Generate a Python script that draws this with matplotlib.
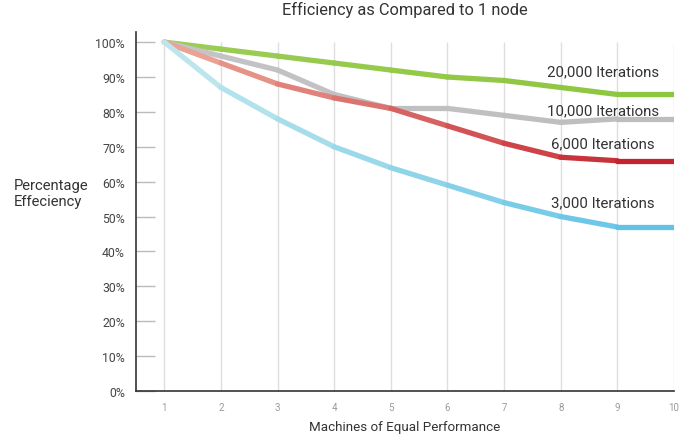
import numpy as np
import matplotlib.pyplot as plt
from matplotlib.collections import LineCollection
from matplotlib.colors import LinearSegmentedColormap

plt.rcParams['font.family'] = ['Roboto', 'DejaVu Sans']

machines = [1, 2, 3, 4, 5, 6, 7, 8, 9, 10]
eff_20000 = [100, 98, 96, 94, 92, 90, 89, 87, 85, 85]
eff_10000 = [100, 96, 92, 85, 81, 81, 79, 77, 78, 78]
eff_6000 = [100, 94, 88, 84, 81, 76, 71, 67, 66, 66]
eff_3000 = [100, 87, 78, 70, 64, 59, 54, 50, 47, 47]

series = [
    ('20,000 Iterations', eff_20000, ('#9ccc55', '#8dc63f'), 91.7),
    ('10,000 Iterations', eff_10000, ('#c4c4c6', '#bdbdc0'), 80.5),
    ('6,000 Iterations', eff_6000, ('#eaa294', '#c3242f'), 71.0),
    ('3,000 Iterations', eff_3000, ('#bde6ec', '#63c3e6'), 54.2),
]

fig = plt.figure(figsize=(6.89, 4.35), dpi=100)
ax = fig.add_axes([136 / 689, 1 - 392 / 435, (674 - 136) / 689, (392 - 33) / 435])

# vertical gridlines up to 100%
ax.vlines(machines, 0, 100, color='#dedede', lw=1, zorder=1)

x = np.array(machines, dtype=float)
for label, vals, (c0, c1), ly in series:
    y = np.array(vals, dtype=float)
    pts = np.column_stack([x, y]).reshape(-1, 1, 2)
    segs = np.concatenate([pts[:-1], pts[1:]], axis=1)
    cmap = LinearSegmentedColormap.from_list(label, [c0, c1])
    cols = cmap(np.linspace(0, 1, len(segs)))
    lc = LineCollection(segs, colors=cols, linewidths=3.8, capstyle='round',
                        joinstyle='round', zorder=3)
    ax.add_collection(lc)
    ax.text(8.75, ly, label, ha='center', va='center', fontsize=10.8,
            color='#333333', zorder=4)

ax.set_xlim(0.5, 10)
ax.set_ylim(0, 102.9)
ax.set_xticks(machines)
ax.set_xticklabels([str(m) for m in machines], color='#9a9a9a', fontsize=7)
ax.tick_params(axis='x', length=0, pad=8)
ax.set_yticks(range(0, 101, 10))
ax.set_yticklabels([f'{v}%' for v in range(0, 101, 10)], color='#444444', fontsize=8.8)
ax.tick_params(axis='y', direction='in', length=14, color='#bbbbbb', width=1, pad=8)

for s in ['top', 'right']:
    ax.spines[s].set_visible(False)
ax.spines['left'].set_color('#333333')
ax.spines['bottom'].set_color('#333333')
ax.spines['left'].set_linewidth(1.2)
ax.spines['bottom'].set_linewidth(1.2)

ax.set_title('Efficiency as Compared to 1 node', fontsize=11.8, color='#333333', pad=13)
ax.set_xlabel('Machines of Equal Performance', fontsize=9.6, color='#333333', labelpad=6)
fig.text(14 / 689, 1 - 194 / 435, 'Percentage\nEffeciency', ha='left', va='center',
         fontsize=10.6, color='#333333', linespacing=1.25)

fig.savefig('out.png', dpi=100)
